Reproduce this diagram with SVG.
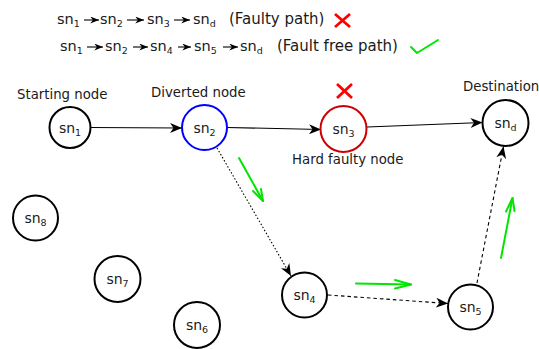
<svg xmlns="http://www.w3.org/2000/svg" width="539" height="349" viewBox="0 0 539 349">
  <style>
    text { font-family: "DejaVu Sans", Verdana, sans-serif; fill: #1a1a1a; }
    .lbl { font-size: 13.3px; }
    .leg { font-size: 14.5px; }
    .note { font-size: 15px; }
    .nl { font-size: 14px; text-anchor: middle; }
    .sub { font-size: 9.5px; }
    .node { fill: #fff; stroke: #000; stroke-width: 2; }
    .edge { fill: none; stroke: #000; stroke-width: 1.1; }
    .dot { stroke-dasharray: 1.5 2; }
    .dash { stroke-dasharray: 3.5 3; }
    .green { fill: none; stroke: #00e600; stroke-width: 2; stroke-linecap: round; stroke-linejoin: round; }
    .cross { stroke: #ff0000; stroke-width: 2.8; }
  </style>
  <defs>
    <marker id="head" viewBox="0 0 12 10" refX="12" refY="5" markerWidth="12" markerHeight="10" markerUnits="userSpaceOnUse" orient="auto">
      <path d="M0,0 L12,5 L0,10 L3.5,5 Z" fill="#000"/>
    </marker>
    <marker id="small" viewBox="0 0 10 8" refX="10" refY="4" markerWidth="9" markerHeight="7" markerUnits="userSpaceOnUse" orient="auto">
      <path d="M0,0 L10,4 L0,8 L3,4 Z" fill="#000"/>
    </marker>
  </defs>

  <!-- legend: the two routes -->
  <g id="legend">
    <text class="leg" x="57" y="24">sn<tspan class="sub" dy="3">1</tspan></text>
    <text class="leg" x="100" y="24">sn<tspan class="sub" dy="3">2</tspan></text>
    <text class="leg" x="147" y="24">sn<tspan class="sub" dy="3">3</tspan></text>
    <text class="leg" x="193" y="24">sn<tspan class="sub" dy="3">d</tspan></text>
    <text class="note" x="229" y="24">(Faulty path)</text>
    <g class="edge">
      <line x1="84" y1="20" x2="99" y2="20" marker-end="url(#small)"/>
      <line x1="127" y1="20" x2="144" y2="20" marker-end="url(#small)"/>
      <line x1="174" y1="20" x2="190" y2="20" marker-end="url(#small)"/>
    </g>
    <g class="cross">
      <line x1="335" y1="14" x2="350" y2="27"/>
      <line x1="350" y1="14" x2="335" y2="27"/>
    </g>

    <text class="leg" x="60" y="51">sn<tspan class="sub" dy="3">1</tspan></text>
    <text class="leg" x="105" y="51">sn<tspan class="sub" dy="3">2</tspan></text>
    <text class="leg" x="150" y="51">sn<tspan class="sub" dy="3">4</tspan></text>
    <text class="leg" x="194" y="51">sn<tspan class="sub" dy="3">5</tspan></text>
    <text class="leg" x="240" y="51">sn<tspan class="sub" dy="3">d</tspan></text>
    <text class="note" x="277" y="51">(Fault free path)</text>
    <g class="edge">
      <line x1="87" y1="47" x2="103" y2="47" marker-end="url(#small)"/>
      <line x1="133" y1="47" x2="148" y2="47" marker-end="url(#small)"/>
      <line x1="178" y1="47" x2="191" y2="47" marker-end="url(#small)"/>
      <line x1="223" y1="47" x2="238" y2="47" marker-end="url(#small)"/>
    </g>
    <polyline class="green" points="411,47 417,53 438,40"/>
  </g>

  <!-- connectors -->
  <g id="connectors">
    <line class="edge" x1="90" y1="127.5" x2="182" y2="128" marker-end="url(#head)"/>
    <line class="edge" x1="227" y1="127.5" x2="321" y2="129.5" marker-end="url(#head)"/>
    <line class="edge" x1="367" y1="127" x2="482.5" y2="122.5" marker-end="url(#head)"/>
    <line class="edge dot" x1="217" y1="148" x2="291" y2="276" marker-end="url(#head)"/>
    <line class="edge dash" x1="328" y1="295" x2="448" y2="303.5" marker-end="url(#head)"/>
    <line class="edge dash" x1="477" y1="283" x2="503.5" y2="146.5" marker-end="url(#head)"/>
  </g>

  <!-- green direction hints -->
  <g id="hints">
    <line class="green" x1="239" y1="158" x2="263" y2="201"/>
    <polyline class="green" points="253,191 263,201 261,189"/>
    <line class="green" x1="356" y1="283.5" x2="411" y2="284.5"/>
    <polyline class="green" points="395,280 411,284.5 395,288.5"/>
    <line class="green" x1="501" y1="258" x2="512.5" y2="198"/>
    <polyline class="green" points="506,211.5 512.5,198 514.5,211"/>
  </g>

  <!-- nodes -->
  <g id="sn1">
    <circle class="node" cx="70" cy="127.5" r="20.5"/>
    <text class="nl" x="70" y="132.5">sn<tspan class="sub" dy="3">1</tspan></text>
    <text class="lbl" x="17" y="99">Starting node</text>
  </g>
  <g id="sn2">
    <circle class="node" cx="204.5" cy="127.5" r="22.5" style="stroke:#0000ff"/>
    <text class="nl" x="204.5" y="132.5">sn<tspan class="sub" dy="3">2</tspan></text>
    <text class="lbl" x="151" y="97">Diverted node</text>
  </g>
  <g id="sn3">
    <circle class="node" cx="343.5" cy="129" r="23" style="stroke:#cc0000"/>
    <text class="nl" x="343.5" y="134">sn<tspan class="sub" dy="3">3</tspan></text>
    <g class="cross">
      <line x1="337" y1="84" x2="352" y2="98"/>
      <line x1="352" y1="84" x2="337" y2="98"/>
    </g>
    <text class="lbl" x="292" y="164">Hard faulty node</text>
  </g>
  <g id="snd">
    <circle class="node" cx="505.5" cy="123" r="23"/>
    <text class="nl" x="505.5" y="128">sn<tspan class="sub" dy="3">d</tspan></text>
    <text class="lbl" x="463" y="91">Destination</text>
  </g>
  <g id="sn4">
    <circle class="node" cx="304.5" cy="295" r="22.5"/>
    <text class="nl" x="304.5" y="300">sn<tspan class="sub" dy="3">4</tspan></text>
  </g>
  <g id="sn5">
    <circle class="node" cx="470.5" cy="307" r="22.5"/>
    <text class="nl" x="470.5" y="312">sn<tspan class="sub" dy="3">5</tspan></text>
  </g>
  <g id="sn6">
    <circle class="node" cx="197" cy="325" r="23"/>
    <text class="nl" x="197" y="330">sn<tspan class="sub" dy="3">6</tspan></text>
  </g>
  <g id="sn7">
    <circle class="node" cx="117.5" cy="279" r="23"/>
    <text class="nl" x="117.5" y="284">sn<tspan class="sub" dy="3">7</tspan></text>
  </g>
  <g id="sn8">
    <circle class="node" cx="35.5" cy="218" r="22.5"/>
    <text class="nl" x="35.5" y="223">sn<tspan class="sub" dy="3">8</tspan></text>
  </g>
</svg>
